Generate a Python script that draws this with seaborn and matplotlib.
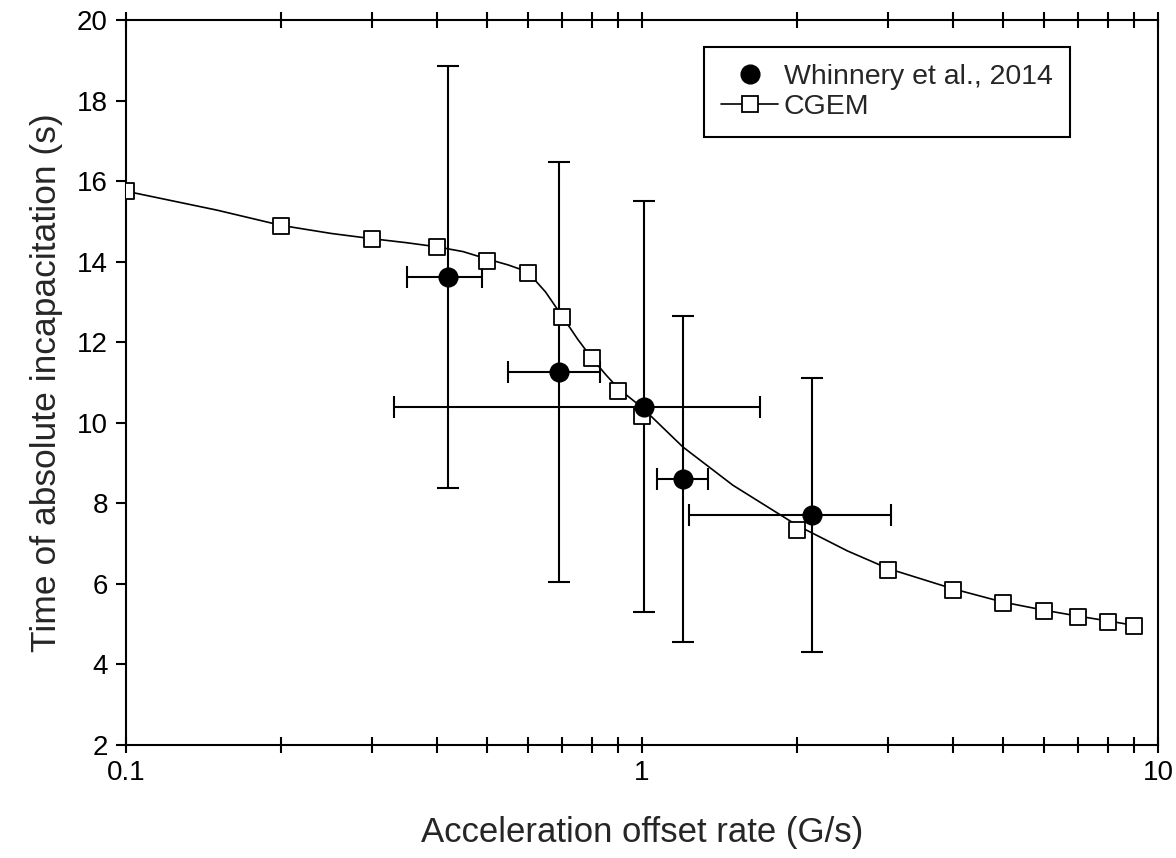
import numpy as np
import pandas as pd
import matplotlib
matplotlib.use("Agg")
import matplotlib.pyplot as plt
import seaborn as sns
from matplotlib.lines import Line2D
from matplotlib.ticker import FixedLocator, FixedFormatter, NullFormatter

# --- Whinnery et al., 2014: mean with ranges ---
whin_rate = [0.42, 0.69, 1.01, 1.2, 2.14]
whin_time = [13.62, 11.27, 10.4, 8.6, 7.72]
whin_rate_lo = [0.35, 0.55, 0.33, 1.07, 1.235]
whin_rate_hi = [0.49, 0.83, 1.69, 1.34, 3.04]
whin_time_lo = [8.37, 6.05, 5.3, 4.55, 4.3]
whin_time_hi = [18.87, 16.48, 15.5, 12.65, 11.1]

# --- CGEM model: marker points ---
cgem_rate = [0.1, 0.2, 0.3, 0.4, 0.5, 0.6, 0.7, 0.8, 0.9, 1.0,
             2, 3, 4, 5, 6, 7, 8, 9]
cgem_time = [15.75, 14.88, 14.56, 14.36, 14.02, 13.72, 12.62, 11.6, 10.8, 10.18,
             7.33, 6.35, 5.85, 5.53, 5.33, 5.17, 5.05, 4.95]

# --- CGEM model: curve ---
curve_rate = [0.1, 0.15, 0.2, 0.25, 0.3, 0.35, 0.4, 0.45, 0.5, 0.55, 0.6, 0.65,
              0.7, 0.75, 0.8, 0.85, 0.9, 1.0, 1.2, 1.5, 2.0, 2.5, 3, 4, 5, 6, 7, 8, 9]
curve_time = [15.75, 15.28, 14.9, 14.7, 14.57, 14.47, 14.37, 14.25, 14.07, 13.92, 13.75, 13.25,
              12.65, 12.08, 11.6, 11.2, 10.85, 10.38, 9.4, 8.45, 7.45, 6.82, 6.38, 5.88, 5.55, 5.35, 5.2, 5.08, 4.97]

whin = pd.DataFrame({"rate": whin_rate, "time": whin_time})
cgem = pd.DataFrame({"rate": cgem_rate, "time": cgem_time})
curve = pd.DataFrame({"rate": curve_rate, "time": curve_time})

sns.set_theme(style="white")
plt.rcParams["font.family"] = ["Liberation Sans", "DejaVu Sans"]

fig = plt.figure(figsize=(11.76, 8.58), dpi=100)
ax = fig.add_axes([126 / 1176, 113 / 858, 1032 / 1176, 725 / 858])

# error bars first so markers sit on top
xerr = [np.array(whin_rate) - np.array(whin_rate_lo), np.array(whin_rate_hi) - np.array(whin_rate)]
yerr = [np.array(whin_time) - np.array(whin_time_lo), np.array(whin_time_hi) - np.array(whin_time)]
ax.errorbar(whin_rate, whin_time, xerr=xerr, yerr=yerr, fmt="none",
            ecolor="black", elinewidth=1.5, capsize=8, capthick=1.5, zorder=2)

sns.lineplot(data=curve, x="rate", y="time", color="black", linewidth=1.2,
             sort=False, ax=ax, zorder=3)
sns.scatterplot(data=cgem, x="rate", y="time", marker="s", s=125,
                facecolor="white", edgecolor="black", linewidth=1.3, ax=ax, zorder=4)
sns.scatterplot(data=whin, x="rate", y="time", marker="o", s=180,
                color="black", edgecolor="black", ax=ax, zorder=5)

ax.set_xscale("log")
ax.set_xlim(0.1, 10)
ax.set_ylim(2, 20)

# x ticks: majors at decades, minors at 2..9
ax.xaxis.set_major_locator(FixedLocator([0.1, 1, 10]))
ax.xaxis.set_major_formatter(FixedFormatter(["0.1", "1", "10"]))
minors = [m * d for d in (0.1, 1) for m in range(2, 10)]
ax.xaxis.set_minor_locator(FixedLocator(minors))
ax.xaxis.set_minor_formatter(NullFormatter())
ax.set_yticks(np.arange(2, 21, 2))

ax.tick_params(axis="x", which="both", direction="inout", length=11, width=1.5,
               top=True, bottom=True, labelsize=20, pad=5, colors="black")
ax.tick_params(axis="y", which="both", direction="out", length=7, width=1.5,
               left=True, right=False, labelsize=20, pad=6, colors="black")

for s in ax.spines.values():
    s.set_visible(True)
    s.set_color("black")
    s.set_linewidth(1.5)

ax.set_xlabel("Acceleration offset rate (G/s)", fontsize=25, labelpad=22)
ax.set_ylabel("Time of absolute incapacitation (s)", fontsize=25.5, labelpad=10)

handles = [
    Line2D([], [], marker="o", color="black", linestyle="none", markersize=13.5),
    Line2D([], [], marker="s", color="black", markerfacecolor="white",
           markersize=11, linewidth=1.2, markeredgewidth=1.3),
]
leg = ax.legend(handles, ["Whinnery et al., 2014", "CGEM"], loc="upper left",
                bbox_to_anchor=((704 - 126) / 1032, 0.963), fontsize=20.5,
                frameon=True, fancybox=False, edgecolor="black", framealpha=1,
                borderpad=0.6, handlelength=2.0, handletextpad=0.2,
                labelspacing=0.15, borderaxespad=0)
leg.get_frame().set_linewidth(1.5)

fig.savefig("out.png", dpi=100)
